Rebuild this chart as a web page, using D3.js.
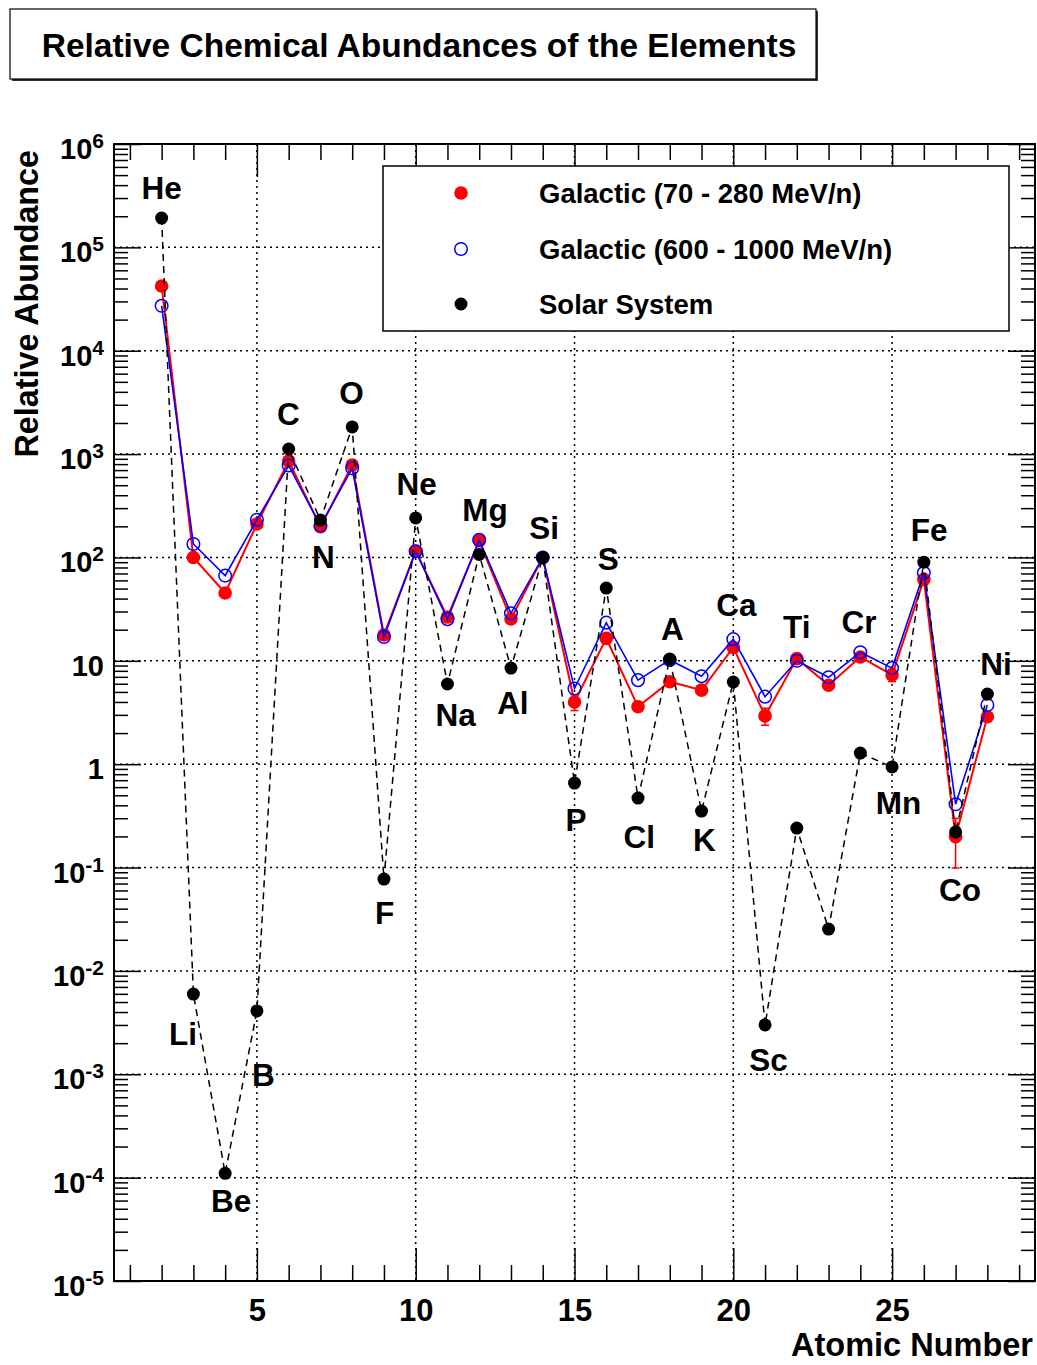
<!DOCTYPE html>
<html>
<head>
<meta charset="utf-8">
<script src="https://cdn.jsdelivr.net/npm/d3@7"></script>
<style>
  body { margin: 0; background: #fff; }
  svg { font-family: "Liberation Sans", Arial, sans-serif; font-weight: bold; }
</style>
</head>
<body>
<svg width="1037" height="1365"></svg>
<script>
// atomic numbers 2 (He) .. 28 (Ni)
const atomicNumbers = [2, 3, 4, 5, 6, 7, 8, 9, 10, 11, 12, 13, 14, 15, 16, 17, 18, 19, 20, 21, 22, 23, 24, 25, 26, 27, 28];

// relative abundances, Si = 100
const solarSystem = [1.92e5, 5.97e-3, 1.1e-4, 4.1e-3, 1120, 230, 1830, 0.0774, 241, 5.97, 107, 8.5, 100,
    0.657, 50.6, 0.47, 10.4, 0.352, 6.24, 0.003, 0.241, 0.0254, 1.28, 0.94, 90, 0.221, 4.77];
const galacticLow = [4.23e4, 100, 45.3, 211, 857, 198, 784, 17.8, 115, 26.5, 145, 25.4, 100,
    4.0, 16.5, 3.6, 6.28, 5.2, 13.5, 2.93, 10.5, 5.8, 10.9, 7.3, 61.4, 0.199, 2.88];
const galacticLowErr = [0, 0, 0, 0, 0, 0, 0, 0, 0, 0, 0, 0, 0,
    0.7, 0, 0, 0, 0, 0, 0.55, 0, 0, 0, 1.0, 0, 0.1, 0];
const galacticHigh = [2.72e4, 135, 66.7, 232, 775, 203, 728, 17, 115, 25.3, 148, 28.8, 100,
    5.4, 23.4, 6.5, 10.2, 7.1, 16.2, 4.5, 10, 6.93, 12.1, 8.5, 71, 0.41, 3.74];

// element labels: symbol, atomic number and abundance where the label sits
const labelSymbols = ["He", "Li", "Be", "B", "C", "N", "O", "F", "Ne", "Na", "Mg", "Al", "Si", "P", "S", "Cl", "A", "K", "Ca", "Sc", "Ti", "Cr", "Mn", "Fe", "Co", "Ni"];
const labelZ = [2.0, 2.67, 4.19, 5.2, 5.99, 7.09, 7.98, 9.02, 10.03, 11.26, 12.18, 13.06, 14.04, 15.05, 16.06, 17.04, 18.08, 19.09, 20.1, 21.11, 22.0, 23.96, 25.2, 26.17, 27.14, 28.27];
const labelValue = [2.94e5, 1.92e-3, 4.65e-5, 7.7e-4, 1910, 79, 3050, 0.0284, 402, 2.34, 225, 3.05, 151, 0.225, 75.6, 0.154, 15.9, 0.144, 27.1, 1.07e-3, 16.6, 18.6, 0.33, 144, 0.0474, 7.3];

const legendNames = ["Galactic (70 - 280 MeV/n)", "Galactic (600 - 1000 MeV/n)", "Solar System"];

const xMajor = [5, 10, 15, 20, 25];
const decades = [-5, -4, -3, -2, -1, 0, 1, 2, 3, 4, 5, 6];

const svg = d3.select("svg");
const frame = { left: 114, right: 1035, top: 144, bottom: 1281 };

const x = d3.scaleLinear().domain([0.5, 29.5]).range([frame.left, frame.right]);
const y = d3.scaleLog().domain([1e-5, 1e6]).range([frame.bottom, frame.top]);

// title box
svg.append("rect").attr("x", 12).attr("y", 11).attr("width", 806).attr("height", 70).attr("fill", "#333");
svg.append("rect").attr("x", 10).attr("y", 9).attr("width", 806).attr("height", 70)
    .attr("fill", "white").attr("stroke", "black").attr("stroke-width", 1.2);
svg.append("text").attr("x", 419).attr("y", 57).attr("text-anchor", "middle")
    .attr("font-size", 33.5).text("Relative Chemical Abundances of the Elements");

// grid
const grid = svg.append("g").attr("stroke", "black").attr("stroke-width", 1.5).attr("stroke-dasharray", "2,4");
xMajor.forEach(v => {
    grid.append("line").attr("x1", x(v)).attr("x2", x(v)).attr("y1", frame.top).attr("y2", frame.bottom);
});
decades.slice(1, -1).forEach(k => {
    grid.append("line").attr("x1", frame.left).attr("x2", frame.right).attr("y1", y(Math.pow(10, k))).attr("y2", y(Math.pow(10, k)));
});

// ticks (ROOT style, inside the frame on all four sides)
const xMinor = d3.range(1, 30).filter(v => v % 5 !== 0);
const yMinor = [];
decades.slice(0, -1).forEach(k => { for (let m = 2; m <= 9; m++) yMinor.push(m * Math.pow(10, k)); });
const yMajor = decades.map(k => Math.pow(10, k));

function tickAxis(axis, transform) {
    const g = svg.append("g").attr("transform", transform).call(axis);
    g.select(".domain").remove();
    g.selectAll(".tick line").attr("stroke", "black").attr("stroke-width", 1.5);
    return g;
}
tickAxis(d3.axisBottom(x).tickValues(xMinor).tickSize(-16).tickFormat(""), `translate(0,${frame.bottom})`);
tickAxis(d3.axisTop(x).tickValues(xMinor).tickSize(-16).tickFormat(""), `translate(0,${frame.top})`);
tickAxis(d3.axisTop(x).tickValues(xMajor).tickSize(-33).tickFormat(""), `translate(0,${frame.top})`);
const xAx = tickAxis(d3.axisBottom(x).tickValues(xMajor).tickSize(-33).tickPadding(18), `translate(0,${frame.bottom})`);
xAx.selectAll("text").attr("font-size", 31).attr("font-family", null).attr("fill", "black");
xAx.attr("font-family", null).attr("font-size", null);

tickAxis(d3.axisLeft(y).tickValues(yMinor).tickSize(-14).tickFormat(""), `translate(${frame.left},0)`);
tickAxis(d3.axisLeft(y).tickValues(yMajor).tickSize(-27).tickFormat(""), `translate(${frame.left},0)`);
tickAxis(d3.axisRight(y).tickValues(yMinor).tickSize(-14).tickFormat(""), `translate(${frame.right},0)`);
tickAxis(d3.axisRight(y).tickValues(yMajor).tickSize(-27).tickFormat(""), `translate(${frame.right},0)`);

// y tick labels with exponents
decades.forEach(k => {
    const t = svg.append("text").attr("x", 104).attr("y", y(Math.pow(10, k)) + 15)
        .attr("text-anchor", "end").attr("font-size", 29);
    if (k === 0 || k === 1) {
        t.text(k === 0 ? "1" : "10");
    } else {
        t.append("tspan").text("10");
        t.append("tspan").attr("font-size", 21).attr("dy", -11).text(k);
    }
});

// frame
svg.append("rect").attr("x", frame.left).attr("y", frame.top)
    .attr("width", frame.right - frame.left).attr("height", frame.bottom - frame.top)
    .attr("fill", "none").attr("stroke", "black").attr("stroke-width", 2);

// axis titles
svg.append("text").attr("x", 1033).attr("y", 1356).attr("text-anchor", "end")
    .attr("font-size", 32.5).text("Atomic Number");
svg.append("text").attr("transform", "translate(38,150) rotate(-90)").attr("text-anchor", "end")
    .attr("font-size", 32.3).text("Relative Abundance");

const line = d3.line().x(d => x(d[0])).y(d => y(d[1]));
const series = vals => atomicNumbers.map((z, i) => [z, vals[i]]);

// red: galactic 70 - 280 MeV/n
svg.append("path").datum(series(galacticLow)).attr("d", line)
    .attr("fill", "none").attr("stroke", "red").attr("stroke-width", 2);
atomicNumbers.forEach((z, i) => {
    const e = galacticLowErr[i];
    if (!e) return;
    const g = svg.append("g").attr("stroke", "red").attr("stroke-width", 1.5);
    g.append("line").attr("x1", x(z)).attr("x2", x(z)).attr("y1", y(galacticLow[i] - e)).attr("y2", y(galacticLow[i] + e));
    [galacticLow[i] - e, galacticLow[i] + e].forEach(v => {
        g.append("line").attr("x1", x(z) - 4).attr("x2", x(z) + 4).attr("y1", y(v)).attr("y2", y(v));
    });
});
svg.append("g").selectAll("circle").data(series(galacticLow)).join("circle")
    .attr("cx", d => x(d[0])).attr("cy", d => y(d[1])).attr("r", 6.8).attr("fill", "red");

// blue: galactic 600 - 1000 MeV/n
svg.append("path").datum(series(galacticHigh)).attr("d", line)
    .attr("fill", "none").attr("stroke", "blue").attr("stroke-width", 1.6);
svg.append("g").selectAll("circle").data(series(galacticHigh)).join("circle")
    .attr("cx", d => x(d[0])).attr("cy", d => y(d[1])).attr("r", 6.3)
    .attr("fill", "none").attr("stroke", "blue").attr("stroke-width", 1.5);

// black: solar system
svg.append("path").datum(series(solarSystem)).attr("d", line)
    .attr("fill", "none").attr("stroke", "black").attr("stroke-width", 1.5).attr("stroke-dasharray", "7,5");
svg.append("g").selectAll("circle").data(series(solarSystem)).join("circle")
    .attr("cx", d => x(d[0])).attr("cy", d => y(d[1])).attr("r", 6.5).attr("fill", "black");

// element labels
labelSymbols.forEach((s, i) => {
    svg.append("text").attr("x", x(labelZ[i])).attr("y", y(labelValue[i]))
        .attr("text-anchor", "middle").attr("font-size", 31.5).text(s);
});

// legend
const legend = svg.append("g");
legend.append("rect").attr("x", 383).attr("y", 166).attr("width", 626).attr("height", 165)
    .attr("fill", "white").attr("stroke", "black").attr("stroke-width", 1.5);
const rowY = [193, 249, 304];
legend.append("circle").attr("cx", 461).attr("cy", rowY[0]).attr("r", 6.8).attr("fill", "red");
legend.append("circle").attr("cx", 461).attr("cy", rowY[1]).attr("r", 6.3)
    .attr("fill", "none").attr("stroke", "blue").attr("stroke-width", 1.5);
legend.append("circle").attr("cx", 461).attr("cy", rowY[2]).attr("r", 6.5).attr("fill", "black");
legendNames.forEach((n, i) => {
    legend.append("text").attr("x", 539).attr("y", rowY[i] + 10).attr("font-size", 27.5).text(n);
});
</script>
</body>
</html>
